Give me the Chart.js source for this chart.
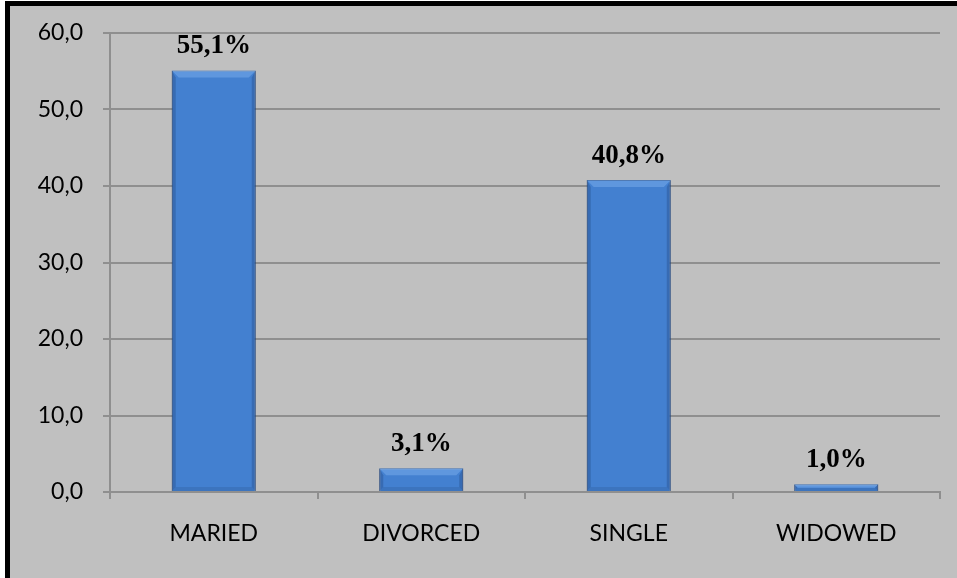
<!DOCTYPE html>
<html>
<head>
<meta charset="utf-8">
<script src="https://cdn.jsdelivr.net/npm/chart.js@4/dist/chart.umd.min.js"></script>
<style>
  html, body { margin: 0; padding: 0; background: #fff; }
  #frame {
    position: absolute; left: 5px; top: 1px;
    width: 947px; height: 572px;
    border-left: 5px solid #000; border-top: 5px solid #000;
    background: #c0c0c0;
  }
  #status { display: block; }
</style>
</head>
<body>
<div id="frame"><canvas id="status" width="947" height="572"></canvas></div>
<script>
var categories = ["MARIED", "DIVORCED", "SINGLE", "WIDOWED"];
var percents = [55.1, 3.1, 40.8, 1.0];
var yTicks = [0, 10, 20, 30, 40, 50, 60];

function comma(v) {
  return v.toFixed(1).replace(".", ",");
}

// vertical shading for each bar, from its own top down to the base
function barFill(context) {
  var el = context.element;
  if (!el || el.y === undefined || isNaN(el.y)) return "#4380d0";
  var ctx = context.chart.ctx;
  var g = ctx.createLinearGradient(0, el.y, 0, el.base);
  g.addColorStop(0, "#4b8cdc");
  g.addColorStop(0.45, "#427fcf");
  g.addColorStop(1, "#3561a2");
  return g;
}

// bevelled edges drawn on top of each bar
var bevel = {
  id: "bevel",
  afterDatasetsDraw: function (chart) {
    var ctx = chart.ctx;
    chart.getDatasetMeta(0).data.forEach(function (bar) {
      var l = bar.x - bar.width / 2, r = bar.x + bar.width / 2;
      var t = bar.y, b = bar.base;
      var d = Math.min(7, (b - t) / 2);
      var s = Math.min(4, d);
      ctx.save();
      ctx.fillStyle = "rgba(150,195,250,0.35)";
      ctx.beginPath();
      ctx.moveTo(l, t); ctx.lineTo(r, t); ctx.lineTo(r - d, t + d); ctx.lineTo(l + d, t + d);
      ctx.closePath(); ctx.fill();
      ctx.fillStyle = "rgba(20,45,90,0.25)";
      ctx.beginPath();
      ctx.moveTo(l, t); ctx.lineTo(l + s, t + d); ctx.lineTo(l + s, b - s); ctx.lineTo(l, b);
      ctx.closePath(); ctx.fill();
      ctx.beginPath();
      ctx.moveTo(r, t); ctx.lineTo(r - s, t + d); ctx.lineTo(r - s, b - s); ctx.lineTo(r, b);
      ctx.closePath(); ctx.fill();
      ctx.fillStyle = "rgba(20,45,90,0.15)";
      ctx.beginPath();
      ctx.moveTo(l, b); ctx.lineTo(r, b); ctx.lineTo(r - s, b - s); ctx.lineTo(l + s, b - s);
      ctx.closePath(); ctx.fill();
      ctx.restore();
    });
  }
};

// percentage printed above each bar
var valueLabels = {
  id: "valueLabels",
  afterDatasetsDraw: function (chart) {
    var ctx = chart.ctx;
    var ds = chart.data.datasets[0];
    ctx.save();
    ctx.font = "bold 27px 'Liberation Serif', 'Times New Roman', serif";
    ctx.fillStyle = "#000";
    ctx.textAlign = "center";
    ctx.textBaseline = "alphabetic";
    chart.getDatasetMeta(0).data.forEach(function (bar, i) {
      ctx.fillText(comma(ds.data[i]) + "%", bar.x, bar.y - 17);
    });
    ctx.restore();
  }
};

new Chart(document.getElementById("status"), {
  type: "bar",
  data: {
    labels: categories,
    datasets: [{
      data: percents,
      backgroundColor: barFill,
      borderColor: "#2c548e",
      borderWidth: 1,
      barPercentage: 0.405,
      categoryPercentage: 1
    }]
  },
  options: {
    responsive: false,
    animation: false,
    layout: { padding: { top: 27, right: 17, left: 0, bottom: 0 } },
    plugins: { legend: { display: false }, tooltip: { enabled: false } },
    scales: {
      x: {
        offset: true,
        grid: { offset: true, drawOnChartArea: false, color: "#8f8f8f", lineWidth: 2, tickLength: 7 },
        border: { color: "#8f8f8f", width: 2 },
        ticks: { color: "#000", padding: 21, font: { family: "Lato", size: 23 } },
        afterFit: function (scale) { scale.height = 86; }
      },
      y: {
        min: 0,
        max: 60,
        afterBuildTicks: function (scale) {
          scale.ticks = yTicks.map(function (v) { return { value: v }; });
        },
        grid: { color: "#8f8f8f", lineWidth: 2, tickLength: 7 },
        border: { color: "#8f8f8f", width: 2 },
        ticks: {
          color: "#000", padding: 20,
          font: { family: "Lato", size: 23 },
          callback: function (v) { return comma(v); }
        },
        afterFit: function (scale) {
          scale.width = 100;
          scale.paddingTop = 0;
          scale.paddingBottom = 0;
        }
      }
    }
  },
  plugins: [bevel, valueLabels]
});
</script>
</body>
</html>
